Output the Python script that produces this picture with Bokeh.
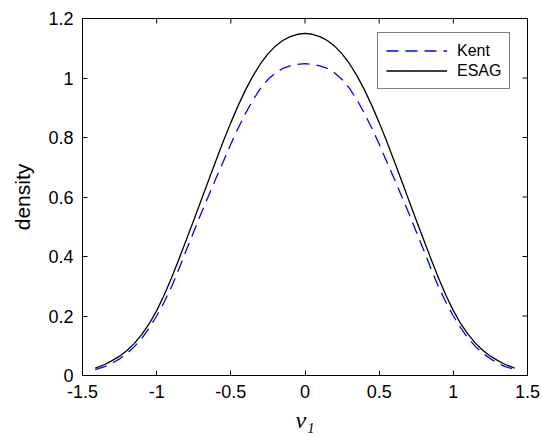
from bokeh.plotting import figure
from bokeh.models import FixedTicker, LinearAxis, Legend, LegendItem, Range1d
from bokeh.embed import file_html
from bokeh.resources import INLINE

# ---- data ----
nu1 = [-1.414, -1.35, -1.3, -1.25, -1.2, -1.15, -1.1, -1.05, -1.0, -0.95, -0.9, -0.85, -0.8, -0.75,
       -0.7, -0.65, -0.6, -0.55, -0.5, -0.45, -0.4, -0.35, -0.3, -0.25, -0.2, -0.15, -0.1, -0.05,
       0.0, 0.05, 0.1, 0.15, 0.2, 0.25, 0.3, 0.35, 0.4, 0.45, 0.5, 0.55, 0.6, 0.65, 0.7, 0.75,
       0.8, 0.85, 0.9, 0.95, 1.0, 1.05, 1.1, 1.15, 1.2, 1.25, 1.3, 1.35, 1.414]
esag = [0.025, 0.037, 0.050, 0.065, 0.084, 0.108, 0.138, 0.174, 0.218, 0.270, 0.328, 0.391, 0.456, 0.522,
        0.589, 0.656, 0.723, 0.788, 0.850, 0.908, 0.961, 1.008, 1.048, 1.081, 1.107, 1.126, 1.139, 1.147,
        1.150, 1.147, 1.139, 1.126, 1.107, 1.081, 1.048, 1.008, 0.961, 0.908, 0.850, 0.788, 0.723, 0.656,
        0.589, 0.522, 0.456, 0.391, 0.328, 0.270, 0.218, 0.174, 0.138, 0.108, 0.084, 0.065, 0.050, 0.037, 0.025]
kent = [0.020, 0.030, 0.041, 0.056, 0.074, 0.097, 0.125, 0.160, 0.200, 0.246, 0.298, 0.358, 0.422, 0.483,
        0.545, 0.604, 0.663, 0.720, 0.778, 0.832, 0.882, 0.927, 0.965, 0.995, 1.017, 1.032, 1.041, 1.046,
        1.048, 1.046, 1.041, 1.032, 1.017, 0.995, 0.965, 0.927, 0.882, 0.832, 0.778, 0.720, 0.663, 0.604,
        0.545, 0.483, 0.422, 0.358, 0.298, 0.246, 0.200, 0.160, 0.125, 0.097, 0.074, 0.056, 0.041, 0.030, 0.020]

x_ticks = [-1.5, -1.0, -0.5, 0.0, 0.5, 1.0, 1.5]
x_tick_labels = ["-1.5", "-1", "-0.5", "0", "0.5", "1", "1.5"]
y_ticks = [0.0, 0.2, 0.4, 0.6, 0.8, 1.0, 1.2]
y_tick_labels = ["0", "0.2", "0.4", "0.6", "0.8", "1", "1.2"]
series_names = ["Kent", "ESAG"]
x_label = "ν₁"
y_label = "density"

FONT = "Liberation Sans"

p = figure(width=542, height=436, output_backend="svg", toolbar_location=None,
           x_range=Range1d(x_ticks[0], x_ticks[-1]), y_range=Range1d(y_ticks[0], y_ticks[-1]),
           min_border_left=82, min_border_right=15, min_border_top=18, min_border_bottom=61,
           x_axis_location=None, y_axis_location=None)
p.grid.visible = False
p.outline_line_color = "black"
p.outline_line_width = 1
p.background_fill_color = "white"
p.border_fill_color = "white"


def style_axis(ax):
    ax.axis_line_color = "black"
    ax.axis_line_width = 1
    ax.major_tick_in = 5
    ax.major_tick_out = 0
    ax.major_tick_line_color = "black"
    ax.minor_tick_line_color = None
    ax.major_label_text_font = FONT
    ax.major_label_text_color = "black"
    ax.major_label_text_font_size = "18px"
    ax.major_label_standoff = 9


xb = LinearAxis(ticker=FixedTicker(ticks=x_ticks),
                major_label_overrides=dict(zip(x_ticks, x_tick_labels)),
                axis_label=x_label)
style_axis(xb)
xb.axis_label_text_font = "Liberation Serif"
xb.axis_label_text_font_style = "italic"
xb.axis_label_text_font_size = "24px"
xb.axis_label_text_color = "black"
xb.axis_label_standoff = 6
p.add_layout(xb, "below")

yl = LinearAxis(ticker=FixedTicker(ticks=y_ticks),
                major_label_overrides=dict(zip(y_ticks, y_tick_labels)),
                axis_label=y_label)
style_axis(yl)
yl.axis_label_text_font = FONT
yl.axis_label_text_font_size = "21px"
yl.axis_label_text_font_style = "normal"
yl.axis_label_text_color = "black"
yl.axis_label_standoff = 11
p.add_layout(yl, "left")

# inward ticks on the top and right edges of the box
p.ray(x=x_ticks, y=[y_ticks[-1]] * len(x_ticks), length=5, length_units="screen",
      angle=-90, angle_units="deg", line_color="black", line_width=1)
p.ray(x=[x_ticks[-1]] * len(y_ticks), y=y_ticks, length=5, length_units="screen",
      angle=180, angle_units="deg", line_color="black", line_width=1)

r_kent = p.line(nu1, kent, line_color="#0000ff", line_width=1.3, line_dash="12 7")
r_esag = p.line(nu1, esag, line_color="black", line_width=1.3)

legend = Legend(items=[LegendItem(label=series_names[0], renderers=[r_kent]),
                       LegendItem(label=series_names[1], renderers=[r_esag])],
                location=(295, 286))
legend.border_line_color = "black"
legend.border_line_width = 1
legend.background_fill_color = "white"
legend.background_fill_alpha = 1
legend.label_text_font = FONT
legend.label_text_font_size = "16px"
legend.label_text_color = "black"
legend.glyph_width = 61
legend.glyph_height = 19
legend.label_height = 19
legend.label_standoff = 10
legend.padding = 8
legend.spacing = 1
legend.margin = 0
p.add_layout(legend, "center")

open("out.html", "w").write(file_html(p, INLINE))
